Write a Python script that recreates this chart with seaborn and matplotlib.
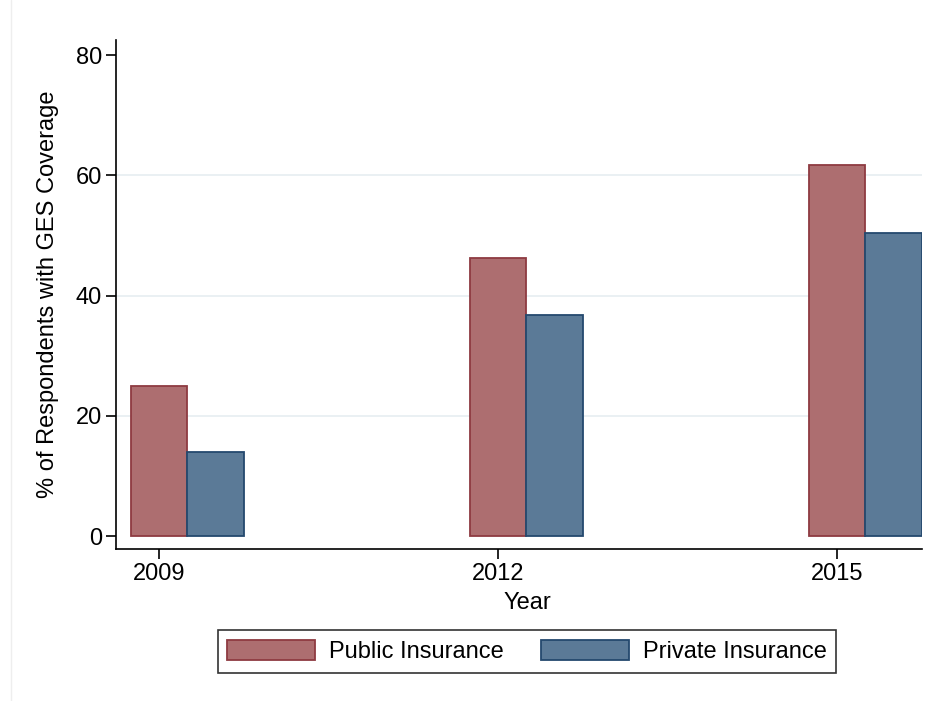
import matplotlib
matplotlib.use("Agg")
import matplotlib.pyplot as plt
from matplotlib.lines import Line2D
import numpy as np
import pandas as pd
import seaborn as sns

# values
years = [2009, 2012, 2015]
public_pct = [25.0, 46.2, 61.7]
private_pct = [14.0, 36.8, 50.4]
series_names = ["Public Insurance", "Private Insurance"]
fill_colors = ["#AD6E70", "#5B7A97"]
edge_colors = ["#8E3A41", "#24496E"]
y_ticks = [0, 20, 40, 60, 80]

df = pd.DataFrame({
    "year": years * 2,
    "pct": public_pct + private_pct,
    "type": [series_names[0]] * len(years) + [series_names[1]] * len(years),
})

sns.set_style("white")
plt.rcParams["font.family"] = ["Liberation Sans", "DejaVu Sans"]
plt.rcParams["text.color"] = "black"
plt.rcParams["axes.labelcolor"] = "black"
plt.rcParams["xtick.color"] = "black"
plt.rcParams["ytick.color"] = "black"

fig = plt.figure(figsize=(9.27, 7.01), dpi=100)
ax = fig.add_axes([116 / 927, 1 - 549 / 701, (922 - 116) / 927, (549 - 39.5) / 701])

bar_w = 1 / 3  # native scale: 1/3 of 3-year spacing -> 0.5 year per bar
sns.barplot(data=df, x="year", y="pct", hue="type", hue_order=series_names,
            palette=fill_colors, native_scale=True, width=bar_w, dodge=True,
            saturation=1, errorbar=None, legend=False, ax=ax, zorder=3)

for cont, ec in zip(ax.containers, edge_colors):
    for p in cont:
        p.set_edgecolor(ec)
        p.set_linewidth(1.3)

# ticks sit at the public bar, as in the original
half = 3 * bar_w / 4
ax.set_xticks(np.array(years) - half, [str(y) for y in years])
ax.set_xlim(years[0] - half - 0.382, years[-1] + 2 * half)
ax.set_ylim(-2.16, 82.6)
ax.set_yticks(y_ticks, [str(t) for t in y_ticks])

for t in y_ticks[1:-1]:
    ax.axhline(t, color="#E8EFF2", lw=1.3, zorder=0)

sns.despine(ax=ax, top=True, right=True)
for s in ["left", "bottom"]:
    ax.spines[s].set_color("black")
    ax.spines[s].set_linewidth(1.2)

ax.tick_params(axis="both", which="both", length=7, width=1.2, color="black",
               labelcolor="black", labelsize=17, left=True, bottom=True,
               direction="out", pad=3)

ax.set_xlabel("Year", fontsize=17, labelpad=0)
ax.xaxis.set_label_coords(0.5106, -0.085)
ax.set_ylabel("% of Respondents with GES Coverage", fontsize=17, labelpad=12)

handles = [plt.Rectangle((0, 0), 1, 1, facecolor=fc, edgecolor=ec, linewidth=1.3)
           for fc, ec in zip(fill_colors, edge_colors)]
leg = fig.legend(handles, series_names, loc="center", ncol=2,
                 bbox_to_anchor=(527 / 927, 1 - 651.5 / 701), fontsize=17,
                 frameon=True, fancybox=False, edgecolor="black",
                 handlelength=3.7, handleheight=0.95, handletextpad=0.6,
                 columnspacing=1.6, borderpad=0.4, borderaxespad=0)
leg.get_frame().set_linewidth(1.2)
for txt in leg.get_texts():
    txt.set_color("black")

fig.add_artist(Line2D([10.5 / 927] * 2, [0, 1], color="#EEEEEE", lw=1))

fig.savefig("out.png", dpi=100)
